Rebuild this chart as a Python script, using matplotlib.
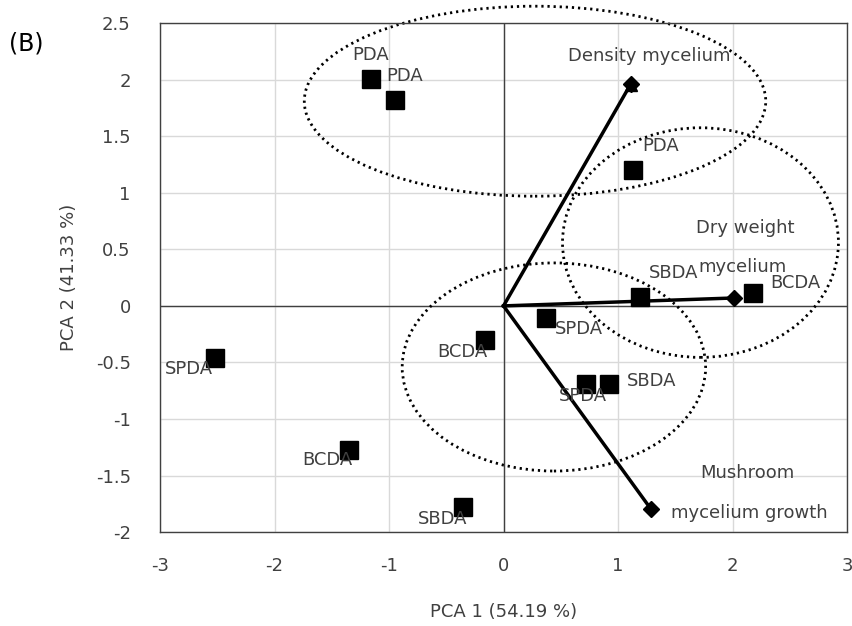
import numpy as np
import matplotlib.pyplot as plt
from matplotlib.patches import Ellipse

plt.rcParams['axes.unicode_minus'] = False

# sample scores (PCA 1, PCA 2)
samples = ['PDA', 'PDA', 'PDA', 'SBDA', 'BCDA', 'SPDA', 'BCDA', 'SBDA',
           'SPDA', 'BCDA', 'SPDA', 'SBDA']
pc1 = [-1.16, -0.95, 1.13, 1.19, 2.18, -2.52, -1.35, -0.35, 0.37, -0.16, 0.72, 0.92]
pc2 = [2.01, 1.82, 1.20, 0.08, 0.11, -0.46, -1.27, -1.78, -0.11, -0.30, -0.69, -0.69]
# where each sample label sits
lab_x = [-1.32, -1.02, 1.21, 1.27, 2.33, -2.96, -1.76, -0.75, 0.45, -0.58, 0.48, 1.08]
lab_y = [2.22, 2.03, 1.41, 0.29, 0.20, -0.56, -1.36, -1.88, -0.20, -0.41, -0.80, -0.66]

# variable loadings
variables = ['Density mycelium', 'Dry weight', 'Mushroom']
load_x = [1.11, 2.01, 1.29]
load_y = [1.96, 0.07, -1.80]
var_lab_x = [0.56, 1.68, 1.72]
var_lab_y = [2.21, 0.69, -1.48]
# second line of the two-line variable labels
var_lab2 = ['mycelium', 'mycelium growth']
var_lab2_x = [1.70, 1.46]
var_lab2_y = [0.34, -1.83]

# grouping ellipses: centre x, centre y, width, height
ell_cx = [0.275, 1.72, 0.44]
ell_cy = [1.81, 0.56, -0.54]
ell_w = [4.03, 2.41, 2.65]
ell_h = [1.68, 2.03, 1.84]

txt = '#404040'
fs = 13
fig = plt.figure(figsize=(8.53, 6.26), dpi=100)
ax = fig.add_axes([0.1876, 0.150, 0.8054, 0.813])

ax.set_xlim(-3, 3)
ax.set_ylim(-2, 2.5)
ax.set_xticks(np.arange(-3, 4, 1))
ax.set_yticks(np.arange(-2, 3, 0.5))
ax.set_yticklabels(['-2', '-1.5', '-1', '-0.5', '0', '0.5', '1', '1.5', '2', '2.5'])
ax.grid(True, color='#d9d9d9', lw=1)
ax.set_axisbelow(True)
ax.tick_params(length=0, labelsize=fs, colors=txt)
ax.tick_params(axis='x', pad=18)
ax.tick_params(axis='y', pad=21)
for s in ax.spines.values():
    s.set_color('#404040')
    s.set_linewidth(1)
ax.axhline(0, color='#404040', lw=1, zorder=1)
ax.axvline(0, color='#404040', lw=1, zorder=1)

for cx, cy, w, h in zip(ell_cx, ell_cy, ell_w, ell_h):
    e = Ellipse((cx, cy), w, h, fill=False, ec='black', lw=2,
                ls=(0, (0.8, 1.4)), clip_on=False, zorder=2)
    ax.add_patch(e)

for x, y in zip(load_x, load_y):
    ax.plot([0, x], [0, y], color='black', lw=2.5, zorder=3)
ax.plot(load_x, load_y, 'D', color='black', ms=8, zorder=4)
ax.plot(load_x[0], load_y[0] - 0.01, '^', color='black', ms=8, zorder=4)

ax.plot(pc1, pc2, 's', color='black', ms=13.5, zorder=5)

for s, x, y in zip(samples, lab_x, lab_y):
    ax.text(x, y, s, fontsize=fs, color=txt, va='center', ha='left', zorder=6)
for s, x, y in zip(variables + var_lab2, var_lab_x + var_lab2_x, var_lab_y + var_lab2_y):
    ax.text(x, y, s, fontsize=fs, color=txt, va='center', ha='left', zorder=6)

ax.set_xlabel('PCA 1 (54.19 %)', fontsize=fs, color=txt, labelpad=20)
ax.set_ylabel('PCA 2 (41.33 %)', fontsize=fs, color=txt, labelpad=13)
fig.text(0.010, 0.931, '(B)', fontsize=17, color='black', va='center')

fig.savefig('out.png', dpi=100)
